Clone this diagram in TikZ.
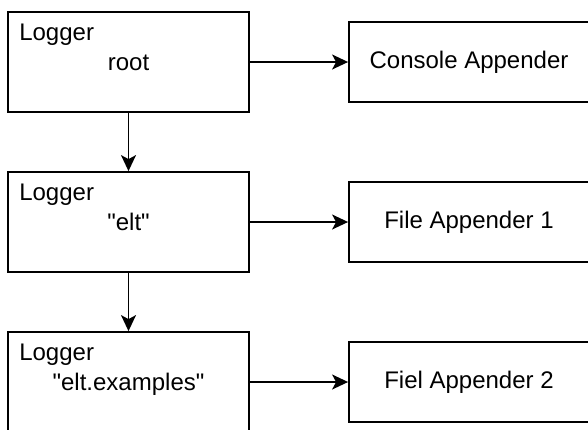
\documentclass[tikz,border=0pt]{standalone}
\usepackage{fontspec}
\setmainfont{Liberation Sans}[Ligatures=TeXOff]
\usetikzlibrary{arrows.meta,calc}
\tikzset{
  loggerbox/.style={draw=black, line width=1.8pt, minimum width=241pt, minimum height=100pt, inner sep=0pt},
  appbox/.style={draw=black, line width=1.8pt, minimum width=240pt, minimum height=80pt, inner sep=0pt, font=\fontsize{24}{28}\selectfont},
  txt/.style={inner sep=0pt, font=\fontsize{24}{28}\selectfont},
  conn/.style={line width=1.6pt, -{Stealth[length=16pt, width=15pt, inset=4pt]}}
}
\begin{document}
\begin{tikzpicture}[x=1pt,y=-1pt]
\useasboundingbox (0,0) rectangle (588,429);
% loggers
\node[loggerbox] (L1) at (128.5,62) {};
\node[loggerbox] (L2) at (128.5,222) {};
\node[loggerbox] (L3) at (128.5,382) {};
% logger labels
\node[txt, anchor=base west] (L1a) at ($(L1.north west)+(12,29)$) {Logger};
\node[txt, anchor=base] (L1b) at ($(L1.north)+(0,59)$) {root};
\node[txt, anchor=base west] (L2a) at ($(L2.north west)+(12,29)$) {Logger};
\node[txt, anchor=base] (L2b) at ($(L2.north)+(0,59)$) {"elt"};
\node[txt, anchor=base west] (L3a) at ($(L3.north west)+(12,29)$) {Logger};
\node[txt, anchor=base] (L3b) at ($(L3.north)+(0,59)$) {"elt.examples"};
% appenders
\node[appbox] (A1) at (469,62) {Console Appender};
\node[appbox] (A2) at (469,222) {File Appender 1};
\node[appbox] (A3) at (469,382) {Fiel Appender 2};
% connectors
\draw[conn] (L1.east) -- (A1.west);
\draw[conn] (L2.east) -- (A2.west);
\draw[conn] (L3.east) -- (A3.west);
\draw[conn] (L1.south) -- (L2.north);
\draw[conn] (L2.south) -- (L3.north);
\end{tikzpicture}
\end{document}
